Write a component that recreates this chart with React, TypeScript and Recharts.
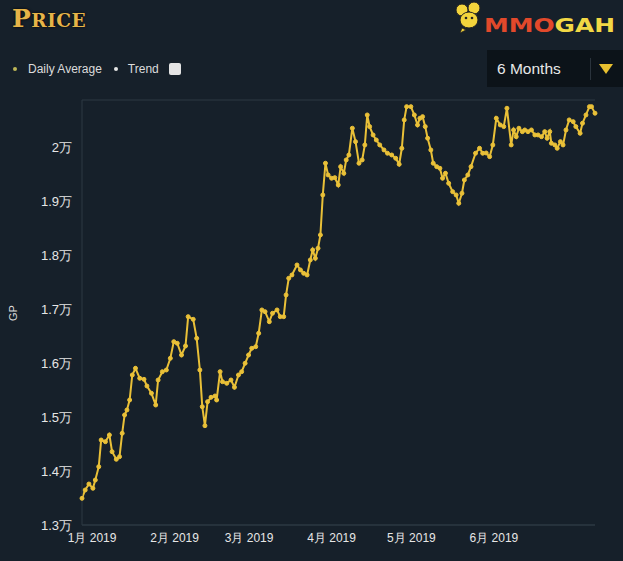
import React from 'react';
import { LineChart, Line, XAxis, YAxis, CartesianGrid } from 'recharts';

// Days since 1 Jan 2019
const days = [
  -3.8, -2.6, -1.2, 0.3, 1.2, 2.5, 3.4, 5.0, 6.5, 7.5, 9.1, 10.3, 11.3, 12.2, 13.1, 14.1,
  15.1, 16.3, 17.9, 19.5, 20.6, 22.3, 23.9, 24.8, 26.4, 27.9, 29.4, 30.7, 32.0, 33.6, 35.1,
  36.1, 38.0, 39.3, 40.5, 41.4, 42.4, 43.4, 44.7, 46.2, 46.8, 48.1, 49.0, 50.6, 52.2, 53.5,
  55.0, 56.2, 57.5, 58.8, 60.0, 61.5, 62.6, 63.8, 65.0, 66.6, 67.8, 69.5, 70.7, 72.0, 72.9,
  73.9, 75.1, 77.0, 78.3, 79.5, 80.8, 82.0, 82.9, 83.9, 84.9, 85.8, 86.7, 87.7, 88.7, 90.0,
  91.2, 92.5, 93.4, 94.6, 95.5, 96.5, 97.8, 99.0, 100.3, 101.5, 102.5, 103.4, 104.3, 105.6,
  106.8, 108.1, 109.7, 111.0, 112.6, 114.1, 115.4, 116.4, 117.3, 118.2, 119.8, 121.1, 122.3,
  123.2, 124.2, 125.2, 126.1, 127.3, 128.2, 129.5, 130.7, 131.7, 132.8, 134.0, 135.5, 136.8,
  137.8, 139.0, 139.9, 141.2, 142.4, 144.1, 145.6, 146.8, 148.1, 149.4, 150.6, 151.9, 153.4,
  154.7, 155.9, 157.5, 158.4, 159.4, 160.4, 161.7, 162.6, 163.8, 165.1, 166.4, 167.6, 168.9,
  170.1, 171.0, 172.0, 172.6, 173.9, 174.8, 176.0, 177.0, 178.1, 179.3, 180.8, 181.8, 183.4,
  184.3, 185.6, 186.9, 187.7, 189.0,
];

// Daily average price in GP (estimated)
const prices = [
  13494, 13648, 13759, 13680, 13833, 14080, 14574, 14543, 14667, 14358, 14217, 14265, 14698, 15037, 15130, 15315,
  15778, 15902, 15717, 15698, 15574, 15439, 15222, 15685, 15839, 15870, 16087, 16395, 16365, 16148, 16315,
  16858, 16809, 16457, 15870, 15191, 14839, 15284, 15365, 15389, 15315, 15839, 15654, 15624, 15685, 15550,
  15778, 15839, 15995, 16148, 16272, 16302, 16550, 16982, 16950, 16765, 16921, 16982, 16858, 16858, 17260,
  17569, 17630, 17815, 17723, 17661, 17630, 17908, 18093, 17939, 18124, 18371, 19112, 19699, 19482, 19421,
  19432, 19297, 19636, 19513, 19760, 19852, 20347, 20099, 19699, 19760, 20038, 20593, 20377, 20223,
  20130, 20038, 19945, 19884, 19852, 19791, 19680, 19976, 20501, 20747, 20747, 20593, 20408,
  20532, 20562, 20377, 20162, 19945, 19699, 19636, 19606, 19421, 19513, 19328, 19173, 19112,
  18958, 19143, 19389, 19482, 19636, 19884, 19976, 19884, 19889, 19821, 20038, 20532, 20408,
  20377, 20717, 20038, 20315, 20191, 20347, 20284, 20315, 20284, 20315, 20223, 20223, 20191,
  20284, 20162, 20284, 20069, 20038, 19976, 20099, 20038, 20315, 20501, 20469, 20377, 20254,
  20439, 20593, 20747, 20747, 20625,
];

const monthTicks = [0, 31, 59, 90, 120, 151];
const monthLabels = ['1月 2019', '2月 2019', '3月 2019', '4月 2019', '5月 2019', '6月 2019'];
const priceTicks = [13000, 14000, 15000, 16000, 17000, 18000, 19000, 20000];
const priceLabels = ['1.3万', '1.4万', '1.5万', '1.6万', '1.7万', '1.8万', '1.9万', '2万'];
const priceDomainMax = 20870;

const legendItems = ['Daily Average', 'Trend'];
const rangeLabel = '6 Months';

const data = days.map((d, i) => ({ day: d, price: prices[i] }));

const GOLD = '#e9c038';
const GRID = '#2c3843';
const BG = '#16202a';
const FONT = '"Liberation Sans", Arial, sans-serif';

function Logo() {
  return (
    <svg width={170} height={40} style={{ position: 'absolute', left: 450, top: 0 }}>
      {/* mouse icon */}
      <circle cx={12} cy={10} r={6} fill="#f3d43c" stroke="#222" strokeWidth={1} />
      <circle cx={24} cy={8} r={6} fill="#f3d43c" stroke="#222" strokeWidth={1} />
      <ellipse cx={19} cy={20} rx={9} ry={8} fill="#f3d43c" stroke="#222" strokeWidth={1} />
      <circle cx={16} cy={18} r={1.3} fill="#222" />
      <circle cx={22} cy={18} r={1.3} fill="#222" />
      <path d="M12 28 L10 33 L16 30 Z" fill="#f3d43c" stroke="#222" strokeWidth={0.8} />
      <text x={34} y={32} textLength={131} lengthAdjust="spacingAndGlyphs"
        style={{ fontFamily: '"DejaVu Sans", sans-serif', fontWeight: 'bold', fontSize: 19 }}>
        <tspan fill="#e2492b">MMO</tspan>
        <tspan fill="#f2d845">GAH</tspan>
      </text>
    </svg>
  );
}

export default function App() {
  return (
    <div style={{ position: 'absolute', left: 0, top: 0, width: 623, height: 561, background: BG, overflow: 'hidden', fontFamily: FONT }}>
      <div style={{ position: 'absolute', left: 12, top: 2, fontFamily: '"DejaVu Serif", serif', fontWeight: 'bold', color: '#e6b448', textShadow: '0 0 3px #000', letterSpacing: 0.5, lineHeight: '34px' }}>
        <span style={{ fontSize: 25 }}>P</span>
        <span style={{ fontSize: 18.5 }}>RICE</span>
      </div>

      <div style={{ position: 'absolute', left: 12, top: 61, height: 16, display: 'flex', alignItems: 'center', fontSize: 12, color: '#dcdcdc' }}>
        <span style={{ width: 4, height: 4, borderRadius: 2, background: '#bdb657', display: 'inline-block', marginLeft: 1 }} />
        <span style={{ marginLeft: 11 }}>{legendItems[0]}</span>
        <span style={{ width: 4, height: 4, borderRadius: 2, background: '#e6e6e6', display: 'inline-block', marginLeft: 12 }} />
        <span style={{ marginLeft: 10 }}>{legendItems[1]}</span>
        <span style={{ width: 12, height: 12, borderRadius: 2, background: '#e4e4e4', display: 'inline-block', marginLeft: 10 }} />
      </div>

      <Logo />

      <div style={{ position: 'absolute', left: 487, top: 50, width: 136, height: 37, background: '#0c1319' }}>
        <div style={{ position: 'absolute', left: 10, top: 0, lineHeight: '37px', fontSize: 15.5, color: '#e8e8e8' }}>{rangeLabel}</div>
        <div style={{ position: 'absolute', left: 103, top: 8, width: 1, height: 22, background: '#2a333c' }} />
        <svg width={16} height={12} style={{ position: 'absolute', left: 111, top: 13 }}>
          <path d="M1 1 L15 1 L8 11 Z" fill="#e8c030" />
        </svg>
      </div>

      <div style={{ position: 'absolute', left: 13, top: 313, transform: 'translate(-50%, -50%) rotate(-90deg)', fontSize: 11, color: '#dcdcdc' }}>GP</div>

      <div style={{ position: 'absolute', left: 0, top: 0 }}>
        <LineChart width={623} height={561} data={data} margin={{ top: 100, right: 28, bottom: 0, left: 0 }}>
          <CartesianGrid vertical={false} stroke={GRID} strokeWidth={1} />
          <XAxis
            xAxisId="bottom"
            dataKey="day"
            type="number"
            domain={['dataMin', 'dataMax']}
            ticks={monthTicks}
            interval={0}
            tickFormatter={(v: number) => monthLabels[monthTicks.indexOf(v)] ?? ''}
            tickLine={false}
            tickSize={0}
            tickMargin={8}
            height={36}
            axisLine={{ stroke: GRID }}
            tick={{ fill: '#e6e6e6', fontSize: 12, fontFamily: FONT }}
          />
          <XAxis xAxisId="top" orientation="top" dataKey="day" type="number" domain={['dataMin', 'dataMax']} height={0} tick={false} tickLine={false} axisLine={{ stroke: GRID }} />
          <YAxis
            yAxisId="left"
            type="number"
            domain={[priceTicks[0], priceDomainMax]}
            ticks={priceTicks}
            interval={0}
            tickFormatter={(v: number) => priceLabels[priceTicks.indexOf(v)] ?? ''}
            tickLine={false}
            tickSize={0}
            tickMargin={10}
            width={82}
            axisLine={{ stroke: GRID }}
            tick={{ fill: '#e6e6e6', fontSize: 13, fontFamily: FONT }}
          />
          <YAxis yAxisId="right" orientation="right" type="number" domain={[priceTicks[0], priceDomainMax]} width={0} tick={false} tickLine={false} axisLine={{ stroke: GRID }} />
          <Line
            xAxisId="bottom"
            yAxisId="left"
            type="linear"
            dataKey="price"
            stroke={GOLD}
            strokeWidth={2}
            dot={{ r: 2, fill: GOLD, stroke: GOLD, strokeWidth: 1 }}
            isAnimationActive={false}
          />
        </LineChart>
      </div>
    </div>
  );
}
